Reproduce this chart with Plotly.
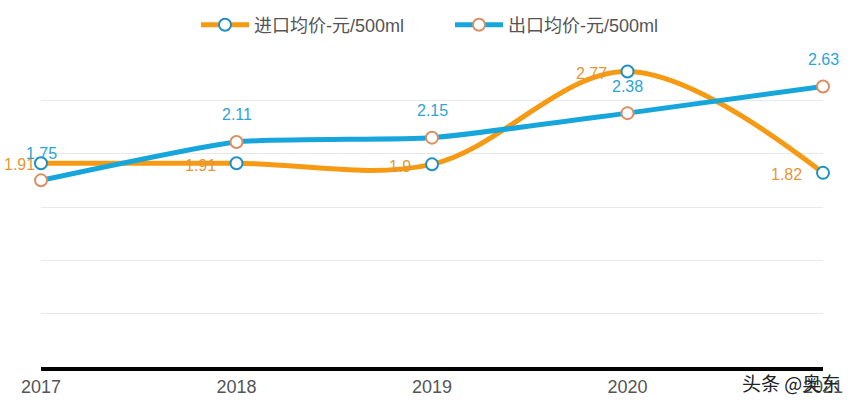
import plotly.graph_objects as go

years = [2017, 2018, 2019, 2020, 2021]
year_labels = ["2017", "2018", "2019", "2020", "2021"]
import_price = [1.91, 1.91, 1.90, 2.77, 1.82]
export_price = [1.75, 2.11, 2.15, 2.38, 2.63]
import_name = "进口均价-元/500ml"
export_name = "出口均价-元/500ml"
y_ticks = [0, 0.5, 1.0, 1.5, 2.0, 2.5, 3.0]

ORANGE = "#F59A12"
CYAN = "#17A6DC"
ORANGE_EDGE = "#D98F63"
CYAN_EDGE = "#1E90C2"
ORANGE_TXT = "#E4973A"
CYAN_TXT = "#2CA5D6"
FONT = "Liberation Sans, Arial, Noto Sans CJK SC, sans-serif"

# plot area in window pixels: x 41..823, y 47..367
PL, PR, PT, PB = 41, 823, 47, 367
W, H = 858, 407

fig = go.Figure()
fig.add_trace(go.Scatter(
    x=years, y=import_price, name=import_name, mode="lines+markers",
    line=dict(color=ORANGE, width=5, shape="spline", smoothing=1.0),
    marker=dict(size=12, color="white", line=dict(color=CYAN_EDGE, width=2)),
    cliponaxis=False, hoverinfo="skip", legend="legend"))
fig.add_trace(go.Scatter(
    x=years, y=export_price, name=export_name, mode="lines+markers",
    line=dict(color=CYAN, width=5, shape="spline", smoothing=0.5),
    marker=dict(size=12, color="white", line=dict(color=ORANGE_EDGE, width=2)),
    cliponaxis=False, hoverinfo="skip", legend="legend2"))

annotations = []
for i, (x, v) in enumerate(zip(years, import_price)):
    if i == 0:
        annotations.append(dict(x=x, y=v, text=f"{v:g}", showarrow=False,
                                xanchor="left", yanchor="middle", xshift=-39, yshift=-1,
                                font=dict(size=16, color=ORANGE_TXT, family=FONT)))
    else:
        annotations.append(dict(x=x, y=v, text=f"{v:g}", showarrow=False,
                                xanchor="right", yanchor="middle", xshift=-19, yshift=-2,
                                font=dict(size=16, color=ORANGE_TXT, family=FONT)))
for x, v in zip(years, export_price):
    annotations.append(dict(x=x, y=v, text=f"{v:g}", showarrow=False,
                            xanchor="center", yanchor="middle", yshift=27,
                            font=dict(size=16, color=CYAN_TXT, family=FONT)))

pw = PR - PL
ph = PB - PT
def px_x(p):
    return (p - PL) / pw
def px_y(p):
    return (PB - p) / ph

annotations.append(dict(xref="paper", yref="paper", x=px_x(791), y=px_y(382),
                        text="头条 @奥东", showarrow=False,
                        xanchor="center", yanchor="middle",
                        font=dict(size=19, color="#222222", family="Noto Sans CJK SC")))

leg_common = dict(orientation="h", yanchor="middle", y=px_y(25),
                  font=dict(size=18, color="#555555", family=FONT),
                  itemwidth=48, bgcolor="rgba(0,0,0,0)", xanchor="left")

fig.update_layout(
    width=W, height=H,
    margin=dict(l=PL, r=W - PR, t=PT, b=H - PB, autoexpand=False),
    paper_bgcolor="white", plot_bgcolor="white",
    font=dict(family=FONT, color="#555555"),
    showlegend=True,
    legend=dict(x=px_x(196), **leg_common),
    legend2=dict(x=px_x(450), **leg_common),
    annotations=annotations,
    hovermode=False,
)
fig.update_xaxes(range=[2017, 2021], tickvals=years, ticktext=year_labels,
                 showgrid=False, zeroline=False, showline=True,
                 linecolor="black", linewidth=4, ticks="",
                 tickfont=dict(size=18, color="#555555"))
fig.update_yaxes(range=[0, 3], tickvals=y_ticks, showticklabels=False,
                 showgrid=True, gridcolor="#E8E8E8", gridwidth=1,
                 zeroline=False, showline=False, ticks="")

fig.write_html("out.html", config={"displayModeBar": False},
               post_script="document.body.style.margin='0';document.body.style.overflow='hidden';")
